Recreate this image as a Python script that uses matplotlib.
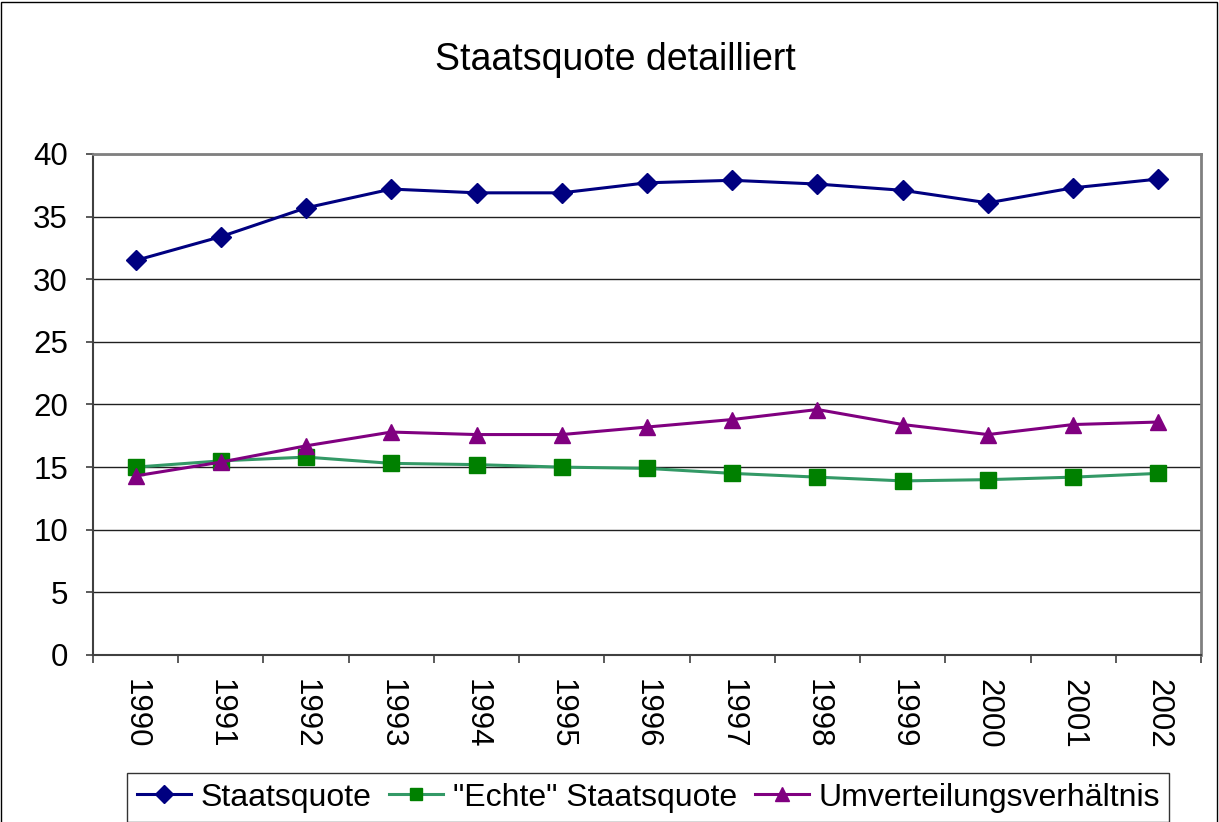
import matplotlib
matplotlib.use("Agg")
import matplotlib.pyplot as plt
import numpy as np

years = ["1990", "1991", "1992", "1993", "1994", "1995", "1996", "1997", "1998", "1999", "2000", "2001", "2002"]
staatsquote = [31.5, 33.4, 35.7, 37.2, 36.9, 36.9, 37.7, 37.9, 37.6, 37.1, 36.1, 37.3, 38.0]
echte = [15.0, 15.5, 15.8, 15.3, 15.2, 15.0, 14.9, 14.5, 14.2, 13.9, 14.0, 14.2, 14.5]
umverteilung = [14.3, 15.4, 16.7, 17.8, 17.6, 17.6, 18.2, 18.8, 19.6, 18.4, 17.6, 18.4, 18.6]

plt.rcParams['font.family'] = ['Liberation Sans', 'DejaVu Sans']

fig = plt.figure(figsize=(12.19, 8.22), dpi=100)
# outer frame
fig.patches.append(plt.Rectangle((0.001, -0.01), 0.997, 1.008, transform=fig.transFigure,
                                 fill=False, edgecolor='black', linewidth=1.0))

ax = fig.add_axes([93/1219, 1-655/822, (1201-93)/1219, (655-154)/822])
x = np.arange(len(years))
l1, = ax.plot(x, staatsquote, color='#000080', marker='D', markersize=10.5, linewidth=2.2, label='Staatsquote')
l2, = ax.plot(x, echte, color='#339966', marker='s', markersize=11, markerfacecolor='#008000',
              markeredgecolor='#008000', linewidth=2.2, label='"Echte" Staatsquote')
l3, = ax.plot(x, umverteilung, color='#800080', marker='^', markersize=11.5, linewidth=2.2, label='Umverteilungsverhältnis')

ax.set_xlim(-0.5, len(years) - 0.5)
ax.set_ylim(0, 40)
ax.set_yticks(np.arange(0, 41, 5))
ax.yaxis.grid(True, color='#202020', linewidth=1)
ax.set_axisbelow(True)
ax.set_xticks(np.arange(-0.5, len(years), 1.0), minor=False)
ax.set_xticklabels([])
ax.set_xticks(x, minor=True)
ax.set_xticklabels(years, minor=True, rotation=-90, fontsize=22.5)
ax.tick_params(axis='x', which='minor', length=0, pad=17)
ax.tick_params(axis='x', which='major', length=6, width=1.2, direction='out', color='#404040')
ax.tick_params(axis='y', labelsize=22.5, length=5, width=1.2, direction='out', pad=13, color='#404040')
for s in ['top', 'right']:
    ax.spines[s].set_color('#808080')
    ax.spines[s].set_linewidth(2)
ax.spines['left'].set_color('#404040')
ax.spines['bottom'].set_color('#404040')
ax.spines['left'].set_linewidth(1.5)
ax.spines['bottom'].set_linewidth(1.5)

fig.text(615/1219, 1-60/822, 'Staatsquote detailliert', ha='center', va='center', fontsize=27)

leg = fig.legend(handles=[l1, l2, l3], loc='upper left', bbox_to_anchor=(127/1219, 1-773/822),
                 ncol=3, fontsize=23, frameon=True, fancybox=False, edgecolor='black',
                 handlelength=1.7, handletextpad=0.3, columnspacing=0.55, borderpad=0.3,
                 borderaxespad=0, markerscale=0.85)
leg.get_frame().set_linewidth(1.0)

fig.savefig('out.png', dpi=100)
